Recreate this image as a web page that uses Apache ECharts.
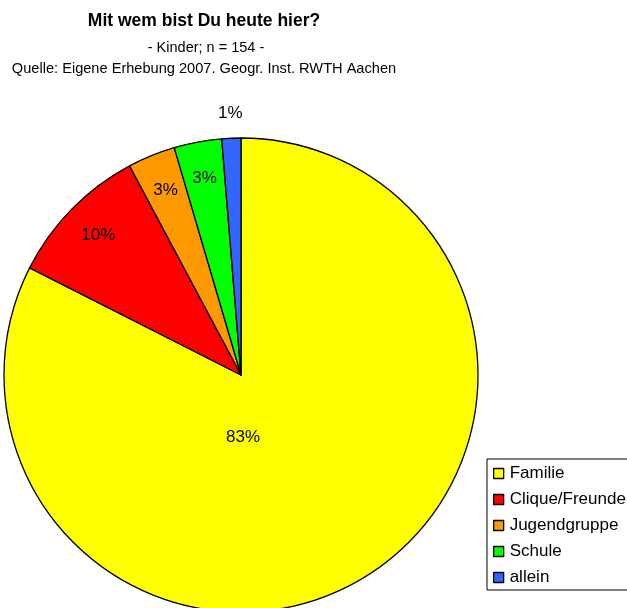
<!DOCTYPE html>
<html>
<head>
<meta charset="utf-8">
<script src="https://cdn.jsdelivr.net/npm/echarts@6/dist/echarts.min.js"></script>
<style>
  html, body { margin: 0; padding: 0; background: #fff; }
  #chart { width: 627px; height: 608px; }
</style>
</head>
<body>
<div id="chart"></div>
<script>
// Survey answers: "Mit wem bist Du heute hier?" (children, n = 154)
const categories = ['Familie', 'Clique/Freunde', 'Jugendgruppe', 'Schule', 'allein'];
const counts = [127, 15, 5, 5, 2];
const colors = ['#FFFF00', '#FF0000', '#FF9900', '#00FF00', '#3366FF'];

const titleText = 'Mit wem bist Du heute hier?';
const subtitleLines = ['- Kinder; n = 154 -', 'Quelle: Eigene Erhebung 2007. Geogr. Inst. RWTH Aachen'];

const FONT = 'Liberation Sans, Arial, sans-serif';
const CX = 241, CY = 375, R = 237;

// Which ring each percentage label sits on
const labelRing = ['center', 'inner', 'inner', 'inner', 'outer'];

const baseData = categories.map((name, i) => ({
  name,
  value: counts[i],
  itemStyle: { color: colors[i] }
}));

function ringData(ring) {
  return categories.map((name, i) => ({
    name,
    value: counts[i],
    label: { show: labelRing[i] === ring }
  }));
}

const labelStyle = {
  color: '#000',
  fontFamily: FONT,
  fontSize: 17,
  formatter: '{d}%'
};

const ringCommon = {
  type: 'pie',
  center: [CX, CY],
  startAngle: 90,
  clockwise: true,
  percentPrecision: 0,
  silent: true,
  animation: false,
  itemStyle: { color: 'rgba(0,0,0,0)', borderWidth: 0 },
  labelLine: { show: false },
  emphasis: { disabled: true }
};

const option = {
  animation: false,
  title: [
    {
      text: titleText, left: 204, top: 12, textAlign: 'center', padding: 0,
      textStyle: { fontFamily: FONT, fontSize: 17.5, fontWeight: 'bold', color: '#000' }
    },
    {
      text: subtitleLines[0], left: 206, top: 40, textAlign: 'center', padding: 0,
      textStyle: { fontFamily: FONT, fontSize: 14.5, fontWeight: 'normal', color: '#000' }
    },
    {
      text: subtitleLines[1], left: 204, top: 61, textAlign: 'center', padding: 0,
      textStyle: { fontFamily: FONT, fontSize: 14.6, fontWeight: 'normal', color: '#000' }
    }
  ],
  legend: {
    orient: 'vertical',
    left: 487,
    top: 459,
    padding: [6, 8, 4, 6],
    data: categories,
    icon: 'rect',
    itemWidth: 10,
    itemHeight: 10,
    itemGap: 9,
    borderColor: '#000',
    borderWidth: 1,
    selectedMode: false,
    itemStyle: { borderColor: '#000', borderWidth: 1.3 },
    textStyle: { fontFamily: FONT, fontSize: 17, lineHeight: 17, color: '#000', padding: [0, 0, 0, 1] }
  },
  series: [
    {
      name: 'Anteil',
      type: 'pie',
      center: [CX, CY],
      radius: R,
      startAngle: 90,
      clockwise: true,
      percentPrecision: 0,
      animation: false,
      itemStyle: { borderColor: '#000', borderWidth: 1.3 },
      label: Object.assign({ position: 'center', offset: [2, 62] }, labelStyle),
      labelLine: { show: false },
      emphasis: { disabled: true },
      data: baseData.map((d, i) => Object.assign({}, d, { label: { show: labelRing[i] === 'center' } }))
    },
    Object.assign({}, ringCommon, {
      name: 'innen',
      radius: [R * 0.66, R],
      label: Object.assign({ position: 'inside' }, labelStyle),
      data: ringData('inner')
    }),
    Object.assign({}, ringCommon, {
      name: 'aussen',
      radius: [R, R * 1.185],
      label: Object.assign({ position: 'inside' }, labelStyle),
      data: ringData('outer')
    })
  ]
};

const chart = echarts.init(document.getElementById('chart'), null, { renderer: 'canvas' });
chart.setOption(option);
</script>
</body>
</html>
